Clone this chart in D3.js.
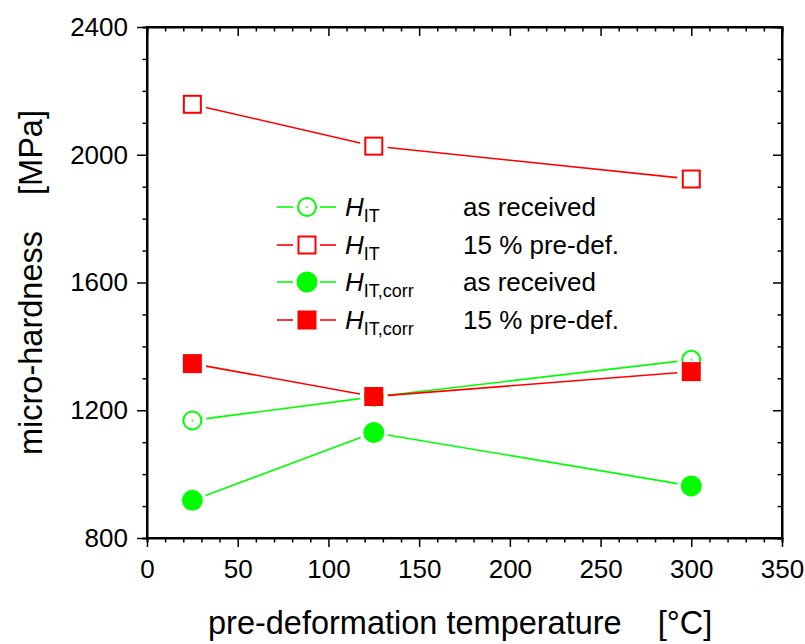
<!DOCTYPE html>
<html><head><meta charset="utf-8">
<script src="https://cdn.jsdelivr.net/npm/d3@7"></script>
<style>
html,body{margin:0;padding:0;background:#fff;}
svg text{font-family:"Liberation Sans",Arial,sans-serif;}
</style></head>
<body><svg id="c" width="805" height="644"></svg>
<script>
const temps = [25, 125, 300];
const hitAsReceived = [1168, 1242, 1358];
const hitPreDef = [2158, 2027, 1924];
const hitCorrAsReceived = [918, 1130, 963];
const hitCorrPreDef = [1346, 1243, 1321];
const xTicks = [0, 50, 100, 150, 200, 250, 300, 350];
const yTicks = [800, 1200, 1600, 2000, 2400];
const xLabel = "pre-deformation temperature    [°C]";
const yLabel = "micro-hardness    [MPa]";
const legendNames = [
  {sub:"IT", desc:"as received"},
  {sub:"IT", desc:"15 % pre-def."},
  {sub:"IT,corr", desc:"as received"},
  {sub:"IT,corr", desc:"15 % pre-def."}
];

const RED = "#ff0000", GREEN = "#00ff00";
const series = [
  {vals: hitAsReceived, color: GREEN, shape: "circle", filled: false},
  {vals: hitPreDef, color: RED, shape: "square", filled: false},
  {vals: hitCorrAsReceived, color: GREEN, shape: "circle", filled: true},
  {vals: hitCorrPreDef, color: RED, shape: "square", filled: true}
];

const L = 147, R = 782, T = 27, B = 538;
const x = d3.scaleLinear().domain([0, 350]).range([L, R]);
const y = d3.scaleLinear().domain([800, 2400]).range([B, T]);
const svg = d3.select("#c");

const fmt = d3.format("d");
const ax = svg.append("g").attr("transform", `translate(0,${B})`)
  .call(d3.axisBottom(x).tickValues(d3.range(0, 351, 10)).tickSize(4.5).tickFormat(""));
ax.call(g => g.selectAll(".tick line").filter(d => d % 50 === 0).attr("y2", 9));
const axl = svg.append("g").attr("transform", `translate(0,${B})`)
  .call(d3.axisBottom(x).tickValues(xTicks).tickSize(0).tickPadding(22).tickFormat(fmt));
axl.select(".domain").remove();
axl.selectAll("text").attr("font-size", 26).attr("fill", "#000");

const ay = svg.append("g").attr("transform", `translate(${L},0)`)
  .call(d3.axisLeft(y).tickValues(d3.range(800, 2401, 100)).tickSize(4.5).tickFormat(""));
ay.call(g => g.selectAll(".tick line").filter(d => d % 400 === 0).attr("x2", -10));
const ayl = svg.append("g").attr("transform", `translate(${L},0)`)
  .call(d3.axisLeft(y).tickValues(yTicks).tickSize(0).tickPadding(19).tickFormat(fmt));
ayl.select(".domain").remove();
ayl.selectAll("text").attr("font-size", 26).attr("fill", "#000");

const at = svg.append("g").attr("transform", `translate(0,${T})`)
  .call(d3.axisBottom(x).tickValues(d3.range(0, 351, 10)).tickSize(4.5).tickFormat(""));
at.call(g => g.selectAll(".tick line").filter(d => d % 50 === 0).attr("y2", 9));
const ar = svg.append("g").attr("transform", `translate(${R},0)`)
  .call(d3.axisLeft(y).tickValues(d3.range(800, 2401, 100)).tickSize(4.5).tickFormat(""));
ar.call(g => g.selectAll(".tick line").filter(d => d % 400 === 0).attr("x2", -9));

[ax, ay, at, ar].forEach(g => {
  g.selectAll(".domain").attr("stroke", "#000").attr("stroke-width", 2);
  g.selectAll(".tick line").attr("stroke", "#000").attr("stroke-width", 1.5);
});

svg.append("rect").attr("x", L).attr("y", T).attr("width", R - L).attr("height", B - T)
  .attr("fill", "none").attr("stroke", "#000").attr("stroke-width", 2);

svg.append("text").attr("x", 208).attr("y", 634).attr("text-anchor", "start")
  .attr("font-size", 32.5).style("white-space", "pre").text(xLabel);
svg.append("text").attr("transform", `translate(42,455) rotate(-90)`)
  .attr("text-anchor", "start").attr("font-size", 32.5).style("white-space", "pre").text(yLabel);

function marker(g, cx, cy, s) {
  if (s.shape === "circle") {
    const r = s.filled ? 10.5 : 9;
    g.append("circle").attr("cx", cx).attr("cy", cy).attr("r", r)
      .attr("fill", s.filled ? s.color : "#fff").attr("stroke", s.color)
      .attr("stroke-width", s.filled ? 0 : 2);
    if (!s.filled) g.append("circle").attr("cx", cx).attr("cy", cy).attr("r", 0.9).attr("fill", s.color);
  } else {
    const h = s.filled ? 9.5 : 8.5;
    g.append("rect").attr("x", cx - h).attr("y", cy - h).attr("width", 2 * h).attr("height", 2 * h)
      .attr("fill", s.filled ? s.color : "none").attr("stroke", s.color)
      .attr("stroke-width", s.filled ? 0 : 2);
  }
}

const plot = svg.append("g");
const gap = 14;
series.forEach(s => {
  const pts = temps.map((t, i) => [x(t), y(s.vals[i])]);
  const lg = plot.append("g");
  for (let i = 0; i < pts.length - 1; i++) {
    const [x1, y1] = pts[i], [x2, y2] = pts[i + 1];
    const dx = x2 - x1, dy = y2 - y1, len = Math.hypot(dx, dy);
    const ux = dx / len, uy = dy / len;
    lg.append("line").attr("x1", x1 + ux * gap).attr("y1", y1 + uy * gap)
      .attr("x2", x2 - ux * gap).attr("y2", y2 - uy * gap)
      .attr("stroke", s.color).attr("stroke-width", 1.6);
  }
});
series.forEach(s => {
  const mg = plot.append("g");
  temps.forEach((t, i) => marker(mg, x(t), y(s.vals[i]), s));
});

const rows = [207, 245, 282, 320];
const leg = svg.append("g");
series.forEach((s, i) => {
  const cy = rows[i];
  leg.append("line").attr("x1", 277).attr("x2", 293).attr("y1", cy).attr("y2", cy)
    .attr("stroke", s.color).attr("stroke-width", 1.6);
  leg.append("line").attr("x1", 320).attr("x2", 336).attr("y1", cy).attr("y2", cy)
    .attr("stroke", s.color).attr("stroke-width", 1.6);
  marker(leg, 307, cy, s);
  const t = leg.append("text").attr("x", 345).attr("y", cy + 9).attr("font-size", 26);
  t.append("tspan").attr("font-style", "italic").text("H");
  t.append("tspan").attr("font-size", 18).attr("dy", 6).text(legendNames[i].sub);
  leg.append("text").attr("x", 463).attr("y", cy + 9).attr("font-size", 26).text(legendNames[i].desc);
});
</script></body></html>
